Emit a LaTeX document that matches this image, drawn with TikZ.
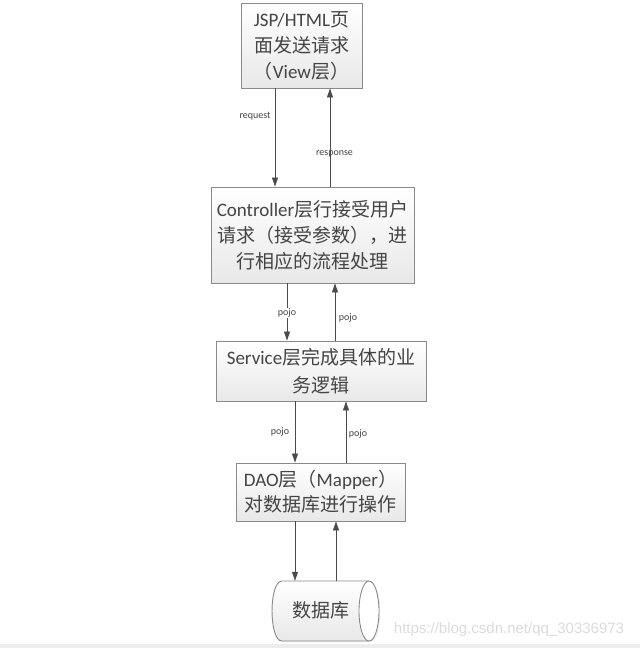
\documentclass[tikz,border=0pt]{standalone}
\usepackage{fontspec}
\setmainfont{Carlito}
\newfontfamily\cjk{Noto Sans CJK SC}
\newfontfamily\wm{Liberation Sans}
\usetikzlibrary{arrows.meta,shadows}
\definecolor{txt}{HTML}{444444}
\definecolor{edge}{HTML}{8A8A8A}
\definecolor{lnk}{HTML}{4A4A4A}
\tikzset{
  layer/.style={rectangle, draw=edge, line width=0.9pt, top color=white, bottom color=black!9,
    text=txt, align=center, inner sep=0pt,
    font=\fontsize{19}{26}\selectfont,
    drop shadow={opacity=0.18, shadow xshift=1.2pt, shadow yshift=-1.2pt}},
  flow/.style={draw=lnk, line width=0.8pt, -{Triangle[length=9pt,width=6pt]}},
  lbl/.style={text=txt, font=\fontsize{10}{11}\selectfont, inner sep=1pt},
  dbline/.style={draw=edge, line width=0.9pt},
  dbtext/.style={rectangle, minimum width=107pt, minimum height=60pt, inner sep=0pt, text=txt,
    font=\fontsize{19}{24}\selectfont}
}
\begin{document}
\begin{tikzpicture}[x=1pt,y=-1pt]
\useasboundingbox (0,0) rectangle (640,648);
\fill[black!7] (0,644) rectangle (640,648);

\node[layer, minimum width=121pt, minimum height=85pt] (jsp) at (301.5,45.5)
  {JSP/HTML{\cjk 页}\\{\cjk 面发送请求}\\{\cjk （}View{\cjk 层）}};
\node[layer, minimum width=203pt, minimum height=96pt] (ctrl) at (312.5,235)
  {Controller{\cjk 层行接受用户}\\{\cjk 请求（接受参数），进}\\{\cjk 行相应的流程处理}};
\node[layer, minimum width=210pt, minimum height=60pt, font=\fontsize{19}{28}\selectfont] (svc) at (321,371)
  {Service{\cjk 层完成具体的业}\\{\cjk 务逻辑}};
\node[layer, minimum width=169pt, minimum height=58pt, font=\fontsize{19}{25}\selectfont] (dao) at (320.5,492)
  {DAO{\cjk 层（}Mapper{\cjk ）}\\{\cjk 对数据库进行操作}};

% database cylinder (horizontal, end face on the right)
\fill[black!3, drop shadow={opacity=0.15, shadow xshift=1.2pt, shadow yshift=-1.2pt}]
  (369,581) -- (282,581) .. controls (268.7,581) and (268.7,641) .. (282,641) -- (369,641)
  .. controls (382.3,641) and (382.3,581) .. (369,581) -- cycle;
\shade[top color=white, bottom color=black!9]
  (369,581) -- (282,581) .. controls (268.7,581) and (268.7,641) .. (282,641) -- (369,641)
  .. controls (382.3,641) and (382.3,581) .. (369,581) -- cycle;
\draw[dbline] (369,581) -- (282,581) .. controls (268.7,581) and (268.7,641) .. (282,641) -- (369,641);
\draw[dbline, fill=white] (369,611) ellipse [x radius=10, y radius=30];
\node[dbtext] (base) at (325.5,611) {};
\node[text=txt, font=\fontsize{19}{24}\selectfont, inner sep=0pt] (basetxt) at (320.5,610) {\cjk 数据库};

\draw[flow] (jsp.south -| 275,0) -- (ctrl.north -| 275,0);
\draw[flow] (ctrl.north -| 330,0) -- (jsp.south -| 330,0);
\node[lbl] (lreq) at (255,116) {request};
\node[lbl] (lres) at (334.5,154) {response};

\draw[flow] (ctrl.south -| 287,0) -- (svc.north -| 287,0);
\draw[flow] (svc.north -| 335,0) -- (ctrl.south -| 335,0);
\node[lbl, fill=white, inner sep=0.5pt] (lp1) at (287,313) {pojo};
\node[lbl] (lp2) at (348,318) {pojo};

\draw[flow] (svc.south -| 295,0) -- (dao.north -| 295,0);
\draw[flow] (dao.north -| 346,0) -- (svc.south -| 346,0);
\node[lbl] (lp3) at (280,432) {pojo};
\node[lbl] (lp4) at (358,434) {pojo};

\draw[flow] (dao.south -| 295,0) -- (base.north -| 295,0);
\draw[flow] (base.north -| 336,0) -- (dao.south -| 336,0);

\node[text=black!14, font=\wm\fontsize{15}{16}\selectfont, inner sep=0pt] (mark) at (509,630)
  {https://blog.csdn.net/qq\_30336973};
\end{tikzpicture}
\end{document}
